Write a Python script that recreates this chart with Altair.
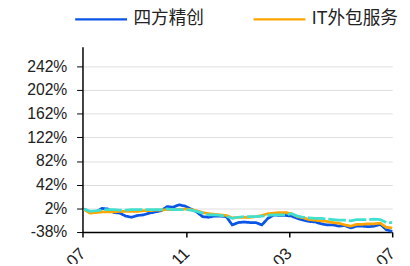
import altair as alt
import pandas as pd

start = "2023-07-03"
n_weeks = 53
dates = pd.date_range(start, periods=n_weeks, freq="7D")

series_names = ["四方精创", "IT外包服务", "沪深300"]
series_colors = ["#0a55e6", "#ffa500", "#40e0d0"]
series_dashes = [[1, 0], [1, 0], [18, 3]]

blue = [1, -5, -4, 2, 1, -5, -6, -11, -13, -10, -9, -6, -4, -2, 5, 4, 8, 6, 1, -4,
        -12, -13, -11, -11, -12, -26, -22, -21, -22, -22, -26, -15, -9, -10, -10, -11,
        -15, -18, -20, -21, -24, -26, -26, -28, -27, -31, -28, -28, -29, -28, -25, -34, -37]
orange = [0, -6, -5, -4, -4, -4, -3, -3, -3, -3, -2, -2, -1, -1, 0, 0, 0, 1, 0, -2,
          -5, -7, -8, -9, -10, -14, -13, -13, -13, -12, -10, -7, -6, -5, -5, -7,
          -12, -14, -17, -18, -19, -20, -22, -23, -26, -28, -25, -25, -24, -24, -23, -30, -31]
cyan = [1, -3, -2, -1, 0, 0, -1, -1, 0, 0, 0, 0, 0, 0, 1, 0, 0, 0, -1, -3,
        -6, -9, -9, -10, -11, -15, -13, -12, -12, -12, -11, -10, -9, -9, -9, -7,
        -11, -13, -14, -15, -15, -16, -17, -18, -18, -19, -17, -17, -17, -16, -17, -22, -22]

y_ticks = [-38, 2, 42, 82, 122, 162, 202, 242]
x_ticks = ["2023-07-01", "2023-11-01", "2024-03-01", "2024-07-01"]

rows = []
for name, vals in zip(series_names, [blue, orange, cyan]):
    for d, v in zip(dates, vals):
        rows.append({"date": d, "value": v, "series": name})
df = pd.DataFrame(rows)

FONT = "Liberation Sans, Noto Sans CJK SC, sans-serif"

chart = alt.Chart(df).mark_line(strokeWidth=2.8).encode(
    x=alt.X("date:T",
            scale=alt.Scale(domain=["2023-07-01", "2024-07-01"]),
            axis=alt.Axis(values=[pd.Timestamp(t).isoformat() for t in x_ticks],
                          format="%Y-%m", title=None, grid=False,
                          labelAngle=315, labelAlign="right", labelBaseline="middle",
                          labelFontSize=17, labelColor="#222222", labelPadding=14,
                          domainColor="#000000", domainWidth=1.5,
                          tickColor="#000000", tickSize=5, tickWidth=1.5)),
    y=alt.Y("value:Q",
            scale=alt.Scale(domain=[-38, 275], nice=False, zero=False),
            axis=alt.Axis(values=y_ticks, labelExpr="datum.value + '%'", title=None,
                          labelFontSize=16, labelColor="#222222", labelPadding=10,
                          domainColor="#000000", domainWidth=1.5,
                          tickColor="#000000", tickSize=6, tickWidth=1,
                          gridColor="#dddddd", gridWidth=1)),
    color=alt.Color("series:N",
                    scale=alt.Scale(domain=series_names, range=series_colors),
                    sort=series_names,
                    legend=alt.Legend(values=series_names[:2], title=None, orient="none",
                                      direction="horizontal", legendX=-9, legendY=-56,
                                      symbolType="stroke", symbolSize=2800,
                                      symbolStrokeWidth=2.5, labelFontSize=18,
                                      labelColor="#222222", labelOffset=5,
                                      columnPadding=45)),
    strokeDash=alt.StrokeDash("series:N",
                              scale=alt.Scale(domain=series_names, range=series_dashes),
                              legend=None),
    order=alt.Order("series:N"),
).properties(
    width=316, height=189,
    padding={"left": 76, "top": 37, "right": 10, "bottom": 30},
    autosize=alt.AutoSizeParams(type="none"),
).configure(font=FONT).configure_view(stroke=None)

chart.save("out.html", embed_options={"renderer": "svg", "actions": False})
